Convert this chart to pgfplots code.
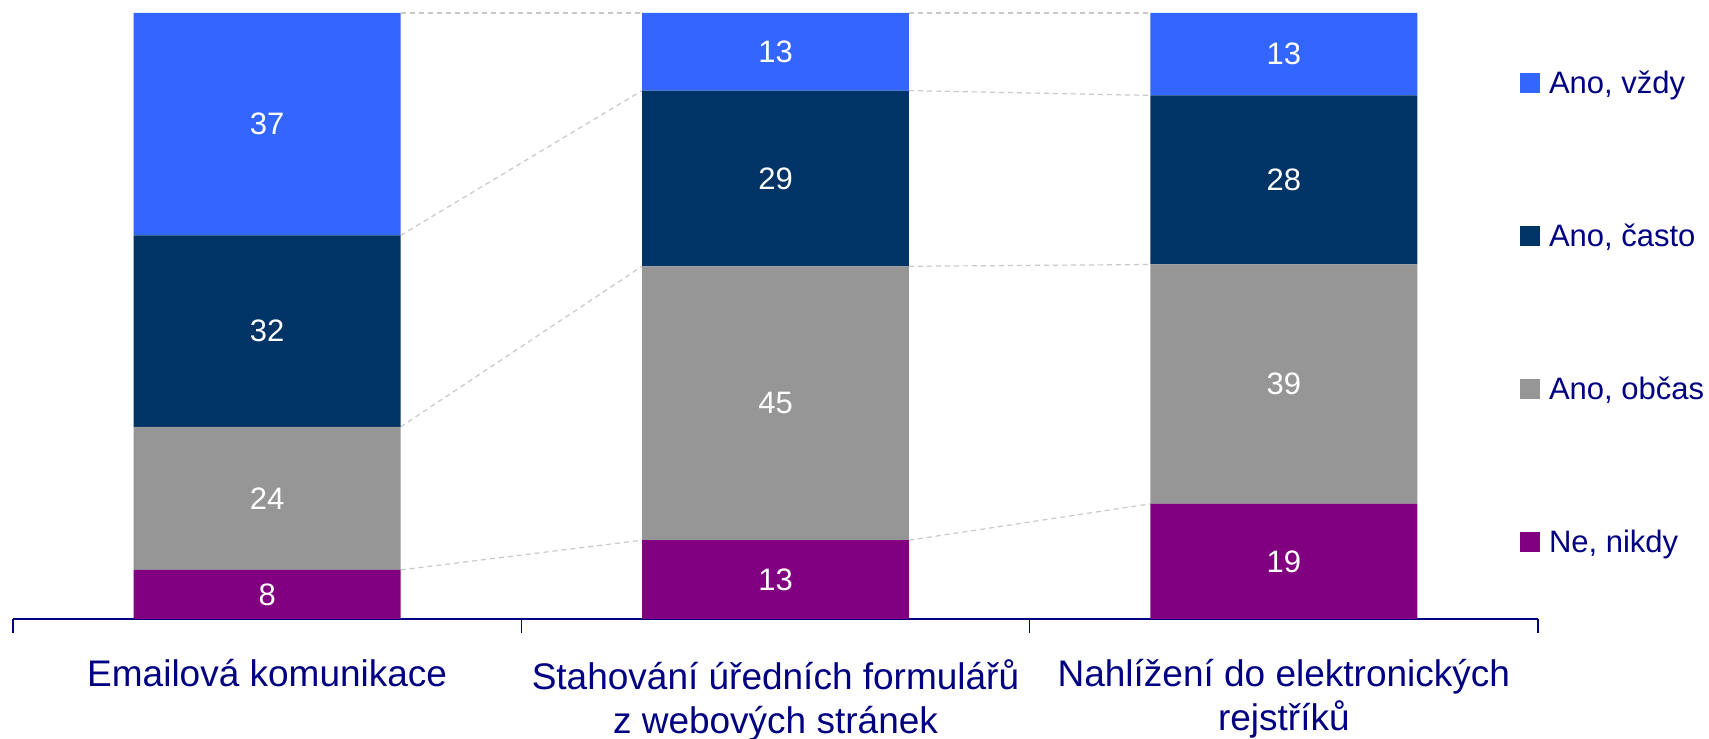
\documentclass[border=0pt]{standalone}
\usepackage{fontspec}
\setmainfont{Liberation Sans}
\usepackage{pgfplots}
\pgfplotsset{compat=1.18}
\definecolor{cvzdy}{HTML}{3366FF}
\definecolor{ccasto}{HTML}{003366}
\definecolor{cobcas}{HTML}{969696}
\definecolor{cnikdy}{HTML}{800080}
\definecolor{txtnavy}{HTML}{000080}
\definecolor{conn}{HTML}{C8C8C8}
\pgfplotsset{connector/.style={draw=conn, line width=0.6pt, dash pattern=on 2.5pt off 2pt, mark=none}}
\begin{document}
\begin{tikzpicture}
\path[use as bounding box] (0,0) rectangle (854.5pt,369.5pt);
% series lines (connectors)
\begin{axis}[at={(6.5pt,60pt)}, anchor=south west, scale only axis,
  width=762.5pt, height=303pt, xmin=-0.5, xmax=2.5, ymin=0, ymax=100,
  axis lines=none, clip=false]
\addplot[connector] coordinates {(0.2625,8.1) (0.7375,13.0)};
\addplot[connector] coordinates {(0.2625,31.7) (0.7375,58.2)};
\addplot[connector] coordinates {(0.2625,63.3) (0.7375,87.2)};
\addplot[connector] coordinates {(0.2625,100) (0.7375,100)};
\addplot[connector] coordinates {(1.2625,13.0) (1.7375,19.0)};
\addplot[connector] coordinates {(1.2625,58.2) (1.7375,58.5)};
\addplot[connector] coordinates {(1.2625,87.2) (1.7375,86.4)};
\addplot[connector] coordinates {(1.2625,100) (1.7375,100)};
\end{axis}
% stacked bars
\begin{axis}[at={(6.5pt,60pt)}, anchor=south west, scale only axis,
  width=762.5pt, height=303pt, xmin=-0.5, xmax=2.5, ymin=0, ymax=100,
  ybar stacked, bar width=0.525,
  axis x line*=bottom, axis y line=none,
  x axis line style={draw=txtnavy, line width=1pt, -},
  xtick={0,1,2},
  xticklabels={Emailová komunikace, {Stahování úředních formulářů\\z webových stránek}, {Nahlížení do elektronických\\rejstříků}},
  xticklabel style={align=center, anchor=north, yshift=-16.6pt, font=\fontsize{18.5}{22}\selectfont, text=txtnavy},
  major x tick style={draw=none},
  extra x ticks={-0.5,0.5,1.5,2.5}, extra x tick labels={},
  extra x tick style={tick align=outside, major tick length=7pt, major x tick style={draw=txtnavy, line width=0.8pt}},
  ytick=\empty,
  point meta=explicit symbolic,
  nodes near coords,
  nodes near coords align={center},
  every node near coord/.append style={anchor=center, text=white, font=\fontsize{15.5}{18}\selectfont},
  reverse legend,
  legend cell align=left,
  legend image code/.code={\fill[#1] (0pt,-5pt) rectangle (10pt,4.7pt);},
  legend style={at={(axis description cs:0.9882,0.9030)}, anchor=north west, draw=none, fill=none, inner sep=0pt, outer sep=0pt, row sep=65.5pt,
    nodes={inner sep=0pt, text height=11pt, text depth=0pt, text=txtnavy, font=\fontsize{15.5}{18}\selectfont},
    /tikz/every odd column/.style={column sep=4.5pt}},
]
\addplot[fill=cnikdy, draw=none] coordinates {(0,8.1) [8] (1,13.0) [13] (2,19.0) [19]};
\addlegendentry{Ne, nikdy}
\addplot[fill=cobcas, draw=none] coordinates {(0,23.6) [24] (1,45.2) [45] (2,39.5) [39]};
\addlegendentry{Ano, občas}
\addplot[fill=ccasto, draw=none] coordinates {(0,31.6) [32] (1,29.0) [29] (2,27.9) [28]};
\addlegendentry{Ano, často}
\addplot[fill=cvzdy, draw=none] coordinates {(0,36.7) [37] (1,12.8) [13] (2,13.6) [13]};
\addlegendentry{Ano, vždy}
\end{axis}
\end{tikzpicture}
\end{document}
